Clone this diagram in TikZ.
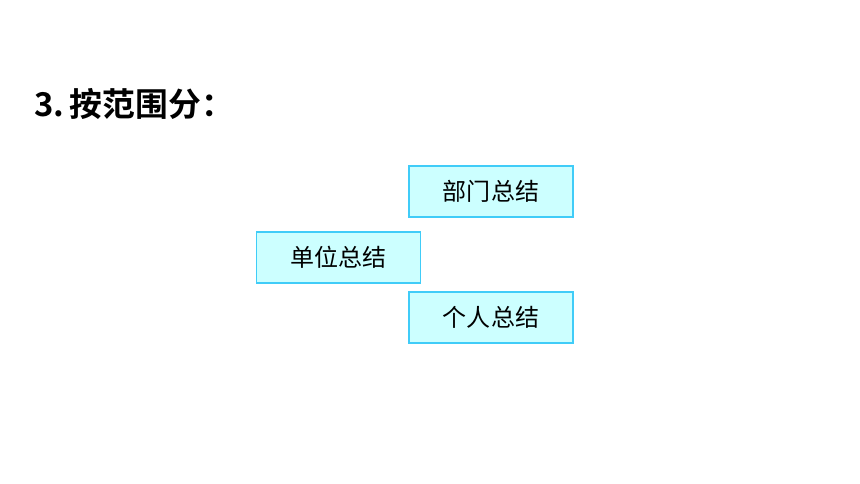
\documentclass[tikz,border=0pt]{standalone}
\usepackage{fontspec}
\newfontfamily\cjk{Noto Sans CJK SC}
\newfontfamily\cjkbold{Noto Sans CJK SC Bold}
\usetikzlibrary{positioning}
\definecolor{boxfill}{HTML}{CCFFFF}
\definecolor{boxline}{HTML}{40CCF8}

\begin{document}
\begin{tikzpicture}[
      x = 0.03cm,
      y = -0.03cm,
      semithick]

      \tikzstyle{every node}=[inner sep=0pt]
      \tikzstyle{kind}=[
      draw = boxline,
      fill = boxfill,
      line width = 0.9pt,
      minimum width = 4.92cm,
      minimum height = 1.53cm,
      font = \cjk\fontsize{20.5}{24}\selectfont]

      \useasboundingbox (0,0) rectangle (860,484);

      \node[anchor=west, font=\cjkbold\fontsize{28}{32}\selectfont] (title) at (34,104) {3.\,按范围分：};

      \node[kind] (danwei) at (338.5,257.5) {单位总结};
      \node[kind] (bumen) at (491,191.5) {部门总结};
      \node[kind] (geren) at (491,317.5) {个人总结};
\end{tikzpicture}
\end{document}
